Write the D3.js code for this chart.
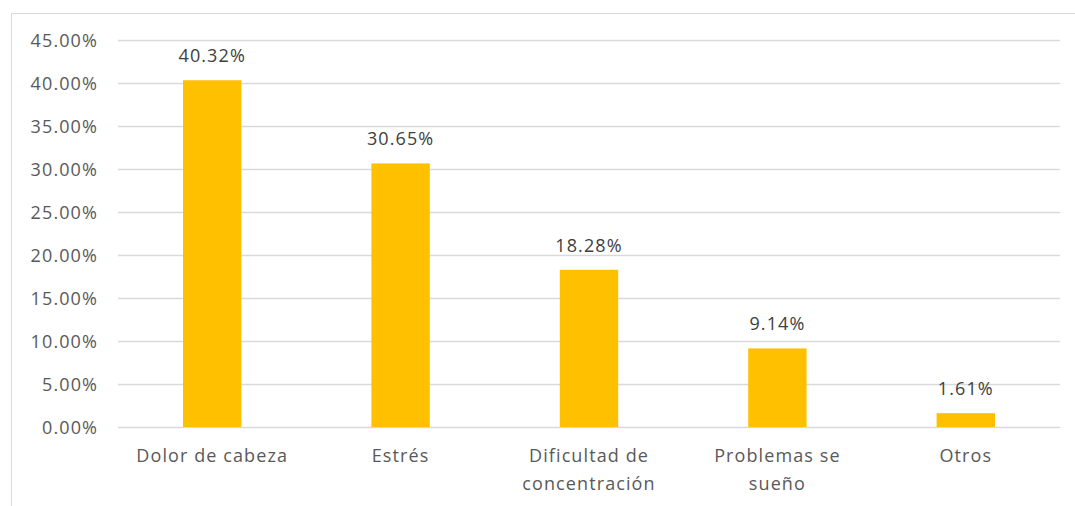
<!DOCTYPE html>
<html><head><meta charset="utf-8">
<script src="https://cdn.jsdelivr.net/npm/d3@7"></script>
<style>body{margin:0;background:#fff;}svg{display:block;font-family:"Open Sans",sans-serif;}</style>
</head><body><div id="chart"></div>
<script>
const categories = [["Dolor de cabeza"], ["Estrés"], ["Dificultad de","concentración"], ["Problemas se","sueño"], ["Otros"]];
const values = [40.32, 30.65, 18.28, 9.14, 1.61];
const yTicks = [0, 5, 10, 15, 20, 25, 30, 35, 40, 45];

const W = 1075, H = 506;
const FONT = "'Open Sans',sans-serif";
const svg = d3.select("#chart").append("svg").attr("width", W).attr("height", H);
svg.append("rect").attr("x", 11.5).attr("y", 13.5).attr("width", W).attr("height", H)
  .attr("fill", "#fff").attr("stroke", "#d9d9d9").attr("stroke-width", 1);

const x = d3.scaleBand().domain(d3.range(categories.length)).range([118, 1060]).paddingInner(0.69).paddingOuter(0.345);
const y = d3.scaleLinear().domain([0, 45]).range([427, 40]);

const yAxis = svg.append("g").attr("transform", "translate(118,0)")
  .call(d3.axisLeft(y).tickValues(yTicks).tickSize(-(1060-118)).tickFormat(d => d.toFixed(2) + "%").tickPadding(20));
yAxis.select(".domain").remove();
yAxis.selectAll("line").attr("stroke", "#d9d9d9").attr("stroke-width", 1.3);
yAxis.selectAll("text").attr("fill", "#595959").style("font-size", "18px").style("font-family", FONT)
  .style("letter-spacing", "1.1px").attr("dy", "0.36em");

svg.selectAll("rect.bar").data(values).join("rect").attr("class", "bar")
  .attr("x", (d, i) => x(i)).attr("width", x.bandwidth())
  .attr("y", d => y(d)).attr("height", d => y(0) - y(d)).attr("fill", "#ffc000");

svg.selectAll("text.lbl").data(values).join("text").attr("class", "lbl")
  .attr("x", (d, i) => x(i) + x.bandwidth() / 2).attr("y", d => y(d) - 18)
  .attr("text-anchor", "middle").attr("fill", "#404040").style("font-size", "18px")
  .style("letter-spacing", "1.1px").style("font-family", FONT)
  .text(d => d.toFixed(2) + "%");

const xl = svg.selectAll("text.cat").data(categories).join("text").attr("class", "cat")
  .attr("text-anchor", "middle").attr("fill", "#595959").style("font-size", "18px")
  .style("letter-spacing", "1.1px").style("font-family", FONT);
xl.each(function(lines, i) {
  const t = d3.select(this);
  lines.forEach((s, k) => t.append("tspan").attr("x", x(i) + x.bandwidth() / 2).attr("y", 462 + k * 28).text(s));
});
</script></body></html>
